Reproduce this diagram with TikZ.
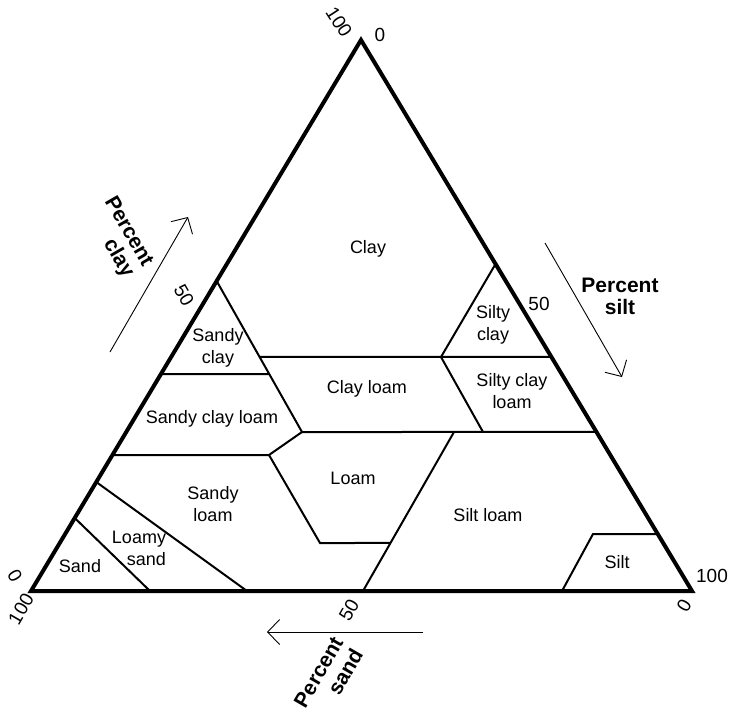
\documentclass[tikz,border=0pt]{standalone}
\usepackage{fontspec}
\setmainfont{Liberation Sans}
\usetikzlibrary{arrows.meta,calc}
\begin{document}
\begin{tikzpicture}[x=1pt,y=-1pt,
  edge/.style={line width=4pt, line join=miter},
  bound/.style={line width=2pt},
  axisarrow/.style={line width=0.9pt, -{Straight Barb[length=12pt,width=25pt,line width=0.9pt]}},
  region/.style={font=\fontsize{18}{22}\selectfont, align=center, inner sep=0pt},
  tick/.style={font=\fontsize{19}{22}\selectfont, inner sep=0pt},
  axislabel/.style={font=\bfseries\fontsize{21}{22}\selectfont, align=center, inner sep=0pt}]
\useasboundingbox (0,0) rectangle (730,712);
% corners
\coordinate (BL) at (31,591);
\coordinate (BR) at (692,591);
\coordinate (A) at (361,40);
% points on left edge
\coordinate (L1) at ($(BL)!0.5626!(A)$);
\coordinate (L2) at ($(BL)!0.3938!(A)$);
\coordinate (L3) at ($(BL)!0.2468!(A)$);
\coordinate (L4) at ($(BL)!0.1978!(A)$);
\coordinate (L5) at ($(BL)!0.1325!(A)$);
% points on right edge
\coordinate (R1) at ($(BR)!0.5935!(A)$);
\coordinate (R2) at ($(BR)!0.4247!(A)$);
\coordinate (R3) at ($(BR)!0.2886!(A)$);
\coordinate (R4) at ($(BR)!0.1034!(A)$);
% points on bottom edge
\coordinate (B1) at (150,591);
\coordinate (B2) at (247,591);
\coordinate (B3) at (363,591);
\coordinate (B4) at (562,591);
% interior points
\coordinate (P1) at (302,432);
\coordinate (P2) at (269,455);
\coordinate (P3) at (320,543);
\coordinate (Q1) at (454,432);
\coordinate (P4) at ($(Q1)!0.698!(B3)$);
\coordinate (S1) at ($(L1)!0.616!(P1)$);
\coordinate (S2) at ($(L1)!0.503!(P1)$);
\coordinate (C1) at (441,357);
\coordinate (C2) at (483,432);
\coordinate (T1) at (593,534);
% class boundaries
\draw[bound] (L1) -- (P1);
\draw[bound] (L2) -- (S1);
\draw[bound] (S2) -- (R2);
\draw[bound] (R1) -- (C1) -- (C2);
\draw[bound] (P1) -- (R3);
\draw[bound] (L3) -- (P2) -- (P1);
\draw[bound] (P2) -- (P3) -- (P4);
\draw[bound] (Q1) -- (B3);
\draw[bound] (L5) -- (B1);
\draw[bound] (L4) -- (B2);
\draw[bound] (R4) -- (T1) -- (B4);
% triangle
\draw[edge] (BL) -- (BR) -- (A) -- cycle;
% region labels
\node[region] (clay) at (368,249) {Clay};
\node[region] (sandyclay) at (218,348) {Sandy\\clay};
\node[region] (siltyclay) at (493,325) {Silty\\clay};
\node[region] (clayloam) at (367,389) {Clay loam};
\node[region] (siltyclayloam) at (512,391) {Silty clay\\loam};
\node[region] (sandyclayloam) at (212,419) {Sandy clay loam};
\node[region] (sandyloam) at (213,504) {Sandy\\loam};
\node[region] (loam) at (353,478) {Loam};
\node[region, align=right] (loamysand) at (139,548) {Loamy\\sand};
\node[region] (sand) at (80,566) {Sand};
\node[region] (siltloam) at (488,515) {Silt loam};
\node[region] (silt) at (617,562) {Silt};
% tick labels
\node[tick, rotate=-57] (t100top) at (339,22) {100};
\node[tick] (t0top) at (380,35) {0};
\node[tick, rotate=-60] (t50left) at (184,295) {50};
\node[tick, rotate=-60] (t0left) at (15,576) {0};
\node[tick, rotate=60] (t100bl) at (21,609) {100};
\node[tick, rotate=60] (t50bot) at (349,610) {50};
\node[tick, rotate=60] (t0br) at (684,606) {0};
\node[tick] (t50right) at (539,304) {50};
\node[tick] (t100right) at (712,576) {100};
% axis arrows
\coordinate (ca1) at (110,352);
\coordinate (ca2) at (188,217);
\coordinate (sa1) at (545,243);
\coordinate (sa2) at (622,377);
\coordinate (na1) at (423,632);
\coordinate (na2) at (267,632);
\draw[axisarrow] (ca1) -- (ca2);
\draw[axisarrow] (sa1) -- (sa2);
\draw[axisarrow] (na1) -- (na2);
% axis labels
\node[axislabel, align=right, rotate=-60] (pclay) at (118.5,237.5) {Percent\\clay};
\node[axislabel] (psilt) at (620,296) {Percent\\silt};
\node[axislabel, align=right, rotate=60, font=\bfseries\fontsize{21}{23}\selectfont] (psand) at (328.5,678) {Percent\\sand};
\end{tikzpicture}
\end{document}
